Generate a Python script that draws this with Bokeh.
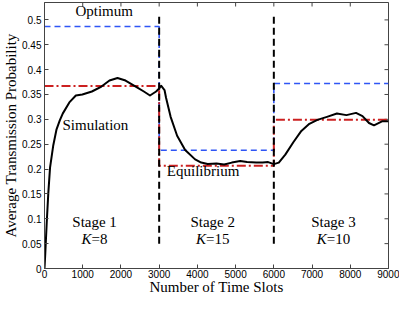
import math
from bokeh.plotting import figure
from bokeh.models import Label, FixedTicker, Range1d
from bokeh.embed import file_html
from bokeh.resources import INLINE

# ---- data ----
stage_edges = [0, 3000, 6000, 9000]
optimum = [0.4866, 0.2378, 0.372]
equilibrium = [0.367, 0.2067, 0.299]
boundary_x = [3000, 6000]
boundary_y = [0.05, 0.512]

sim_x = [0, 20, 60, 100, 145, 230, 315, 400, 480, 650, 820, 990, 1240, 1490, 1700,
         1910, 2120, 2420, 2600, 2760, 2920, 3000, 3050, 3140, 3180, 3300, 3470, 3680,
         3940, 4100, 4270, 4500, 4700, 4900, 5120, 5300, 5540, 5710, 5850, 6000, 6130,
         6300, 6510, 6720, 6930, 7140, 7390, 7650, 7900, 8150, 8320, 8490, 8620, 8830, 9000]
sim_y = [0.0, 0.03, 0.095, 0.152, 0.203, 0.248, 0.28, 0.298, 0.312, 0.334, 0.348, 0.350,
         0.356, 0.366, 0.378, 0.383, 0.378, 0.3645, 0.356, 0.348, 0.356, 0.362, 0.3676,
         0.359, 0.3435, 0.305, 0.267, 0.2385, 0.2195, 0.213, 0.21, 0.211, 0.209, 0.213,
         0.216, 0.214, 0.213, 0.213, 0.214, 0.21, 0.213, 0.229, 0.254, 0.2767, 0.291,
         0.299, 0.305, 0.3117, 0.3085, 0.313, 0.3065, 0.2926, 0.288, 0.296, 0.296]

x_ticks = [0, 1000, 2000, 3000, 4000, 5000, 6000, 7000, 8000, 9000]
x_tick_labels = ["0", "1000", "2000", "3000", "4000", "5000", "6000", "7000", "8000", "9000"]
y_ticks = [0, 0.05, 0.1, 0.15, 0.2, 0.25, 0.3, 0.35, 0.4, 0.45, 0.5]
y_tick_labels = ["0", "0.05", "0.1", "0.15", "0.2", "0.25", "0.3", "0.35", "0.4", "0.45", "0.5"]

x_lim = [0, 9000]
y_lim = [0, 0.535]

stage_names = ["Stage 1", "Stage 2", "Stage 3"]
stage_k = ["=8", "=15", "=10"]
stage_label_x = [1310, 4400, 7560]

SERIF = "Liberation Serif"
SANS = "Liberation Sans"
AXC = "#444444"


def step_xy(edges, vals):
    xs, ys = [], []
    for i, v in enumerate(vals):
        xs += [edges[i], edges[i + 1]]
        ys += [v, v]
    return xs, ys


p = figure(width=399, height=297, output_backend="svg", toolbar_location=None,
           x_range=Range1d(*x_lim), y_range=Range1d(*y_lim),
           min_border_top=2, min_border_right=11, min_border_left=0, min_border_bottom=0)
p.background_fill_color = "white"
p.border_fill_color = "white"
p.grid.visible = False
p.outline_line_color = AXC
p.outline_line_width = 1

for ax in (p.xaxis[0], p.yaxis[0]):
    ax.major_tick_in = 4
    ax.major_tick_out = 0
    ax.minor_tick_in = 0
    ax.minor_tick_out = 0
    ax.axis_line_color = AXC
    ax.major_tick_line_color = AXC
    ax.major_label_text_font = SANS
    ax.major_label_text_font_size = "10px"
    ax.major_label_text_color = "black"
    ax.axis_label_text_font = SERIF
    ax.axis_label_text_font_size = "15px"
    ax.axis_label_text_font_style = "normal"
    ax.axis_label_text_color = "black"

p.xaxis[0].ticker = FixedTicker(ticks=x_ticks)
p.xaxis[0].major_label_overrides = {t: l for t, l in zip(x_ticks, x_tick_labels)}
p.xaxis[0].major_label_standoff = 1
p.xaxis[0].axis_label_standoff = -2
p.xaxis[0].axis_label = "Number of Time Slots"
p.yaxis[0].ticker = FixedTicker(ticks=y_ticks)
p.yaxis[0].major_label_overrides = {t: l for t, l in zip(y_ticks, y_tick_labels)}
p.yaxis[0].major_label_standoff = 3
p.yaxis[0].axis_label_standoff = 0
p.yaxis[0].axis_label = "Average Transmission Probability"

# mirrored inward ticks on top and right edges (clipped to the frame)
p.scatter(x=x_ticks, y=[y_lim[1]] * len(x_ticks), marker="dash", angle=math.pi / 2,
          size=8, line_color=AXC, line_width=1)
p.scatter(x=[x_lim[1]] * len(y_ticks), y=y_ticks, marker="dash",
          size=8, line_color=AXC, line_width=1)

ox, oy = step_xy(stage_edges, optimum)
ex, ey = step_xy(stage_edges, equilibrium)
p.line(ox, oy, line_color="#2f55f5", line_width=1.6, line_dash="6 4")
p.line(ex, ey, line_color="#cc2020", line_width=2, line_dash="9 3 2 3")
p.line(sim_x, sim_y, line_color="black", line_width=2, line_join="round")
for bx in boundary_x:
    p.line([bx, bx], boundary_y, line_color="black", line_width=2, line_dash="7 4")

# annotations
tstyle = dict(text_font=SERIF, text_font_size="15px", text_color="black")
p.add_layout(Label(x=1560, y=0.501, text="Optimum", text_align="center", **tstyle))
p.add_layout(Label(x=470, y=0.2735, text="Simulation", text_align="left", **tstyle))
p.add_layout(Label(x=3200, y=0.180, text="Equilibrium", text_align="left", **tstyle))

k_w = 10.0
for name, kval, sx in zip(stage_names, stage_k, stage_label_x):
    p.add_layout(Label(x=sx, y=0.0765, text=name, text_align="center", **tstyle))
    rest_w = 7.5 * len(kval) + 1
    split = (k_w - rest_w) / 2.0
    p.add_layout(Label(x=sx, y=0.0425, x_offset=split, text="K", text_align="right",
                       text_font_style="italic", text_font=SERIF, text_font_size="15px",
                       text_color="black"))
    p.add_layout(Label(x=sx, y=0.0425, x_offset=split, text=kval, text_align="left", **tstyle))

open("out.html", "w").write(file_html(p, INLINE))
